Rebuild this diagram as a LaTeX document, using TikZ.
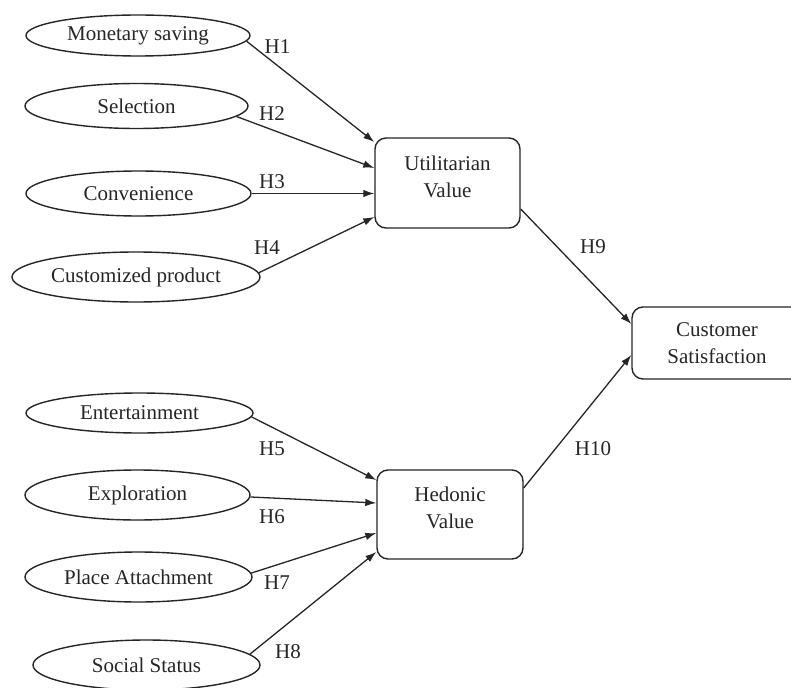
\documentclass[tikz,border=0pt]{standalone}
\usepackage{fontspec}
\setmainfont{Liberation Serif}
\usetikzlibrary{arrows.meta,shapes.geometric}
\definecolor{ink}{HTML}{262626}
\tikzset{
  oval/.style={ellipse, draw=ink, line width=1.4pt, inner sep=0pt, text=ink,
    font=\fontsize{21}{27}\selectfont},
  factor/.style={rectangle, rounded corners=11pt, draw=ink, line width=1.4pt,
    inner sep=0pt, align=center, text=ink, font=\fontsize{21}{27}\selectfont},
  arr/.style={draw=ink, line width=1.3pt, -{Latex[length=11pt,width=7.5pt]}},
  lbl/.style={inner sep=0pt, text=ink, font=\fontsize{21}{27}\selectfont}
}
\begin{document}
\begin{tikzpicture}[x=1pt,y=-1pt]
\useasboundingbox (0,0) rectangle (791,687);
\clip (0,0) rectangle (791,687);
\fill[white] (0,0) rectangle (791,687);

% utilitarian antecedents
\node[oval, minimum width=224pt, minimum height=41pt] (ms)  at (138,35.5) {Monetary saving};
\node[oval, minimum width=223pt, minimum height=45pt] (sel) at (136.5,106) {Selection};
\node[oval, minimum width=225pt, minimum height=45pt] (cv)  at (138.5,193.5) {Convenience};
\node[oval, minimum width=248pt, minimum height=50pt] (cp)  at (136,277) {Customized product};

% hedonic antecedents
\node[oval, minimum width=227pt, minimum height=40pt] (ent) at (139.5,413) {Entertainment};
\node[oval, minimum width=225pt, minimum height=50pt] (exp) at (137.5,495) {Exploration};
\node[oval, minimum width=227pt, minimum height=50pt] (pa)  at (138.5,577) {Place Attachment};
\node[oval, minimum width=227pt, minimum height=50pt] (ss)  at (146.5,665) {Social Status};

% value constructs and outcome
\node[factor, minimum width=145pt, minimum height=90pt, text depth=12pt] (uv) at (447.5,183) {Utilitarian\\Value};
\node[factor, minimum width=146pt, minimum height=89pt, text depth=13pt] (hv) at (450,514.5) {Hedonic\\Value};
\node[factor, minimum width=170pt, minimum height=72pt] (cs) at (717,343) {Customer\\Satisfaction};

% paths
\draw[arr] (ms.-3.5)  -- ([yshift=41pt]uv.west);
\draw[arr] (sel.-6.5) -- ([yshift=15pt]uv.west);
\draw[arr] (cv.east)  -- ([yshift=-10.5pt]uv.west);
\draw[arr] (cp.2.5)   -- ([yshift=-34pt]uv.west);

\draw[arr] (ent.-2.6) -- ([yshift=34.5pt]hv.west);
\draw[arr] (exp.-1)   -- ([yshift=11.5pt]hv.west);
\draw[arr] (pa.2)     -- ([yshift=-18.5pt]hv.west);
\draw[arr] (ss.6.7)   -- ([yshift=-37.5pt]hv.west);

\draw[arr] ([yshift=-26pt]uv.east)  -- ([yshift=19pt]cs.west);
\draw[arr] ([yshift=26.5pt]hv.east) -- ([yshift=-12pt]cs.west);

% hypothesis labels
\node[lbl] (h1)  at (277.5,47)  {H1};
\node[lbl] (h2)  at (272,114)   {H2};
\node[lbl] (h3)  at (272,182)   {H3};
\node[lbl] (h4)  at (267,248)   {H4};
\node[lbl] (h5)  at (272,449)   {H5};
\node[lbl] (h6)  at (272,517)   {H6};
\node[lbl] (h7)  at (277,583)   {H7};
\node[lbl] (h8)  at (288,652)   {H8};
\node[lbl] (h9)  at (593,247)   {H9};
\node[lbl] (h10) at (593,449)   {H10};
\end{tikzpicture}
\end{document}
